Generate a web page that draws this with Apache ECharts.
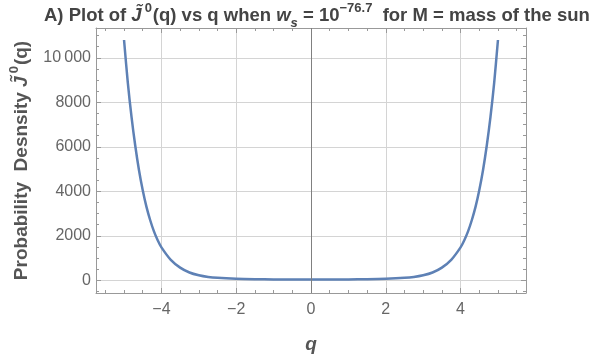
<!DOCTYPE html>
<html>
<head>
<meta charset="utf-8">
<script src="https://cdn.jsdelivr.net/npm/echarts@6/dist/echarts.min.js"></script>
<style>
  html, body { margin: 0; padding: 0; background: #fff; }
  #myChart { width: 600px; height: 362px; }
</style>
</head>
<body>
<div id="myChart"></div>
<script>
// values
const qValues = [
  -5, -4.9, -4.8, -4.7, -4.6, -4.5, -4.4, -4.3, -4.2, -4.1, -4,
  -3.75, -3.5, -3.25, -3, -2.75, -2.5, -2, -1.5, -1, -0.5,
  0,
  0.5, 1, 1.5, 2, 2.5, 2.75, 3, 3.25, 3.5, 3.75,
  4, 4.1, 4.2, 4.3, 4.4, 4.5, 4.6, 4.7, 4.8, 4.9, 5
];
const densityValues = [
  10800, 8900, 7350, 6050, 4950, 4050, 3300, 2700, 2200, 1800, 1480,
  920, 570, 350, 225, 150, 110, 70, 50, 40, 36,
  35,
  36, 40, 50, 70, 110, 150, 225, 350, 570, 920,
  1480, 1800, 2200, 2700, 3300, 4050, 4950, 6050, 7350, 8900, 10800
];
const xMajorTicks = [-4, -2, 0, 2, 4];
const xMinorTicks = [-5.5, -5, -4.5, -3.5, -3, -2.5, -1.5, -1, -0.5, 0.5, 1, 1.5, 2.5, 3, 3.5, 4.5, 5, 5.5];
const yMajorTicks = [0, 2000, 4000, 6000, 8000, 10000];
const yMinorTicks = [-500, 500, 1000, 1500, 2500, 3000, 3500, 4500, 5000, 5500, 6500, 7000, 7500, 8500, 9000, 9500, 10500, 11000];

const xMin = -5.75, xMax = 5.75;
const yMin = -570, yMax = 11340;

const frameColor = "#999";
const labelColor = "#666";
const titleColor = "#444";
const lineColor = "#5E81B5";

let myChart = echarts.init(document.getElementById("myChart"));

// one helper for the frame axes, ticks drawn inward like the original
function frameAxis(pos, ticks, len, withLine, extra) {
  let isX = pos === "bottom" || pos === "top";
  return Object.assign({
    type: "value",
    position: pos,
    min: isX ? xMin : yMin,
    max: isX ? xMax : yMax,
    axisLine: { show: withLine, onZero: false, lineStyle: { color: frameColor, width: 1 } },
    axisTick: { show: true, inside: true, length: len, customValues: ticks, lineStyle: { color: frameColor, width: 1 } },
    axisLabel: { show: false },
    splitLine: { show: false }
  }, extra || {});
}

function tickLabel(v) {
  if (v === 10000) return "10\u2009000";
  return v < 0 ? "\u2212" + Math.abs(v) : String(v);
}

myChart.setOption({
  animation: false,
  title: {
    text: "{b|A) Plot of }{i|J\u0303}{supj|0}{b|(q) vs q when }{i|w}{sub|s}{b| = 10}{sup|\u221276.7}{b|  for M = mass of the sun}",
    left: 39,
    top: -3,
    textStyle: {
      rich: {
        b: { fontFamily: "Liberation Sans", fontWeight: "bold", fontSize: 18.5, color: titleColor, lineHeight: 28 },
        i: { fontFamily: "Liberation Sans", fontWeight: "bold", fontStyle: "italic", fontSize: 18.5, color: titleColor, lineHeight: 28 },
        supj: { fontFamily: "Liberation Sans", fontWeight: "bold", fontSize: 13, color: titleColor, verticalAlign: "top", lineHeight: 15, padding: [0, 1, 0, 3] },
        sup: { fontFamily: "Liberation Sans", fontWeight: "bold", fontSize: 13, color: titleColor, verticalAlign: "top", lineHeight: 15 },
        sub: { fontFamily: "Liberation Sans", fontWeight: "bold", fontStyle: "italic", fontSize: 13, color: titleColor, verticalAlign: "bottom", lineHeight: 15 }
      }
    }
  },
  grid: {
    left: 95,
    top: 28,
    width: 431,
    height: 265,
    containLabel: false
  },
  xAxis: [
    frameAxis("bottom", xMajorTicks, 5, true, {
      axisLabel: {
        show: true, customValues: xMajorTicks, formatter: tickLabel,
        color: labelColor, fontSize: 16, fontFamily: "Liberation Sans", margin: 9
      },
      splitLine: { show: true, lineStyle: { color: "#d4d4d4", width: 1 } },
      name: "q",
      nameLocation: "middle",
      nameGap: 42,
      nameTextStyle: { fontFamily: "Liberation Sans", fontWeight: "bold", fontStyle: "italic", fontSize: 19, color: "#555" }
    }),
    frameAxis("bottom", xMinorTicks, 3, false),
    frameAxis("top", xMajorTicks, 5, true),
    frameAxis("top", xMinorTicks, 3, false)
  ],
  yAxis: [
    frameAxis("left", yMajorTicks, 5, true, {
      axisLabel: {
        show: true, customValues: yMajorTicks, formatter: tickLabel,
        color: labelColor, fontSize: 16, fontFamily: "Liberation Sans", margin: 5
      },
      splitLine: { show: true, lineStyle: { color: "#d4d4d4", width: 1 } },
      name: "{b|Probability  Desnsity }{i|J\u0303}{sup|0}{b|(q)}",
      nameLocation: "middle",
      nameRotate: 90,
      nameGap: 60,
      nameTextStyle: {
        rich: {
          b: { fontFamily: "Liberation Sans", fontWeight: "bold", fontSize: 19, color: "#555", lineHeight: 28 },
          i: { fontFamily: "Liberation Sans", fontWeight: "bold", fontStyle: "italic", fontSize: 19, color: "#555", lineHeight: 28 },
          sup: { fontFamily: "Liberation Sans", fontWeight: "bold", fontSize: 13, color: "#555", verticalAlign: "top", lineHeight: 15, padding: [0, 1, 0, 3] }
        }
      }
    }),
    frameAxis("left", yMinorTicks, 3, false),
    frameAxis("right", yMajorTicks, 5, true),
    frameAxis("right", yMinorTicks, 3, false)
  ],
  series: [
    {
      type: "line",
      xAxisIndex: 0,
      yAxisIndex: 0,
      data: qValues.map((q, i) => [q, densityValues[i]]),
      showSymbol: false,
      smooth: 0.3,
      lineStyle: { color: lineColor, width: 2.5 },
      markLine: {
        silent: true,
        symbol: "none",
        label: { show: false },
        lineStyle: { color: "#808080", type: "solid", width: 1 },
        data: [{ xAxis: 0 }]
      }
    }
  ]
});
</script>
</body>
</html>
